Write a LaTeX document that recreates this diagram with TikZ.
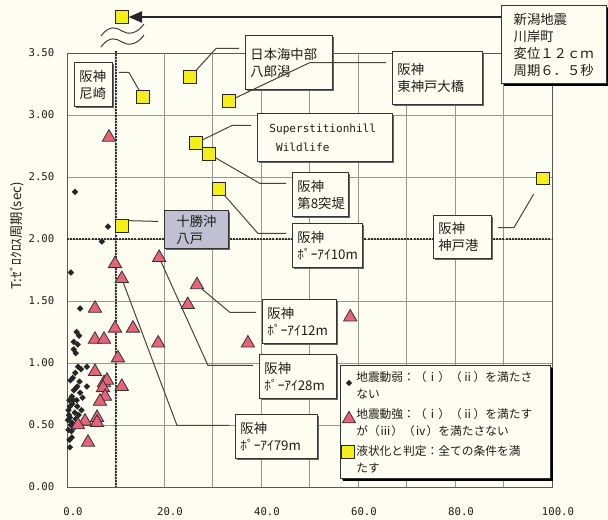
\documentclass[tikz,border=0pt]{standalone}
\usepackage{fontspec}
\setmainfont{Noto Sans CJK JP}
\newfontfamily\monofont{DejaVu Sans Mono}
\usetikzlibrary{arrows.meta,shapes.geometric,shadows}
\definecolor{paper}{RGB}{253,253,242}
\definecolor{liqyellow}{RGB}{246,238,24}
\definecolor{shakepink}{RGB}{232,98,122}
\definecolor{hachifill}{RGB}{192,192,210}
\definecolor{leadcol}{RGB}{72,68,46}
\definecolor{gridcol}{RGB}{150,150,138}
\definecolor{inkcol}{RGB}{30,30,24}

\begin{document}
\begin{tikzpicture}[x=0.75pt,y=-0.75pt,
  label box/.style={rectangle,draw=black!80,fill=paper,line width=0.7pt,anchor=north west,
    align=left,inner xsep=3.75pt,text=inkcol,font=\fontsize{10}{12.75}\selectfont,
    drop shadow={shadow xshift=0.8pt,shadow yshift=-0.8pt,fill=black!60,opacity=1}},
  liq mark/.style={rectangle,draw=black!85,fill=liqyellow,line width=0.6pt,minimum size=9.5pt,inner sep=0pt},
  strong mark/.style={regular polygon,regular polygon sides=3,draw=black!80,fill=shakepink,
    line width=0.6pt,minimum size=11.5pt,inner sep=0pt},
  weak mark/.style={diamond,fill=black!85,minimum size=5pt,inner sep=0pt},
  grid line/.style={draw=gridcol,line width=0.4pt},
  frame line/.style={draw=black!65,line width=0.6pt},
  limit line/.style={draw=black!80,line width=1.5pt,dash pattern=on 1.5pt off 0.8pt},
  leader/.style={draw=leadcol,line width=0.75pt,shorten <=4.5pt},
  ytick/.style={anchor=east,xshift=-6pt,font=\monofont\fontsize{8}{9}\selectfont,text=inkcol},
  xtick/.style={anchor=north,yshift=-12pt,xshift=4.5pt,font=\monofont\fontsize{8}{9}\selectfont,text=inkcol},
  legend text/.style={anchor=north west,align=left,inner sep=0pt,text=inkcol,
    font=\fontsize{8.8}{13}\selectfont}]

  \useasboundingbox (0,0) rectangle (608,519);
  \fill[paper] (0,0) rectangle (608,519);

  % plot area in data units
  \begin{scope}[shift={(50.25pt,-365.25pt)},x=3.6375pt,y=93pt]
    \foreach \gx in {10,20,...,90}
      \draw[grid line] (\gx,0) -- (\gx,3.5);
    \foreach \gy in {0.5,1.0,1.5,2.0,2.5,3.0}
      \draw[grid line] (0,\gy) -- (100,\gy);
    \draw[frame line] (0,0) rectangle (100,3.5);

    \foreach \gy/\txt [count=\k] in {0/0.00,0.5/0.50,1/1.00,1.5/1.50,2/2.00,2.5/2.50,3/3.00,3.5/3.50}
      \node[ytick] (ytick\k) at (0,\gy) {\txt};
    \foreach \gx/\txt [count=\k] in {0/0.0,20/20.0,40/40.0,60/60.0,80/80.0,100/100.0}
      \node[xtick] (xtick\k) at (\gx,0) {\txt};

    % limits
    \draw[limit line] (10,3.52) -- (10,0);
    \draw[limit line] (0,2) -- (100,2);

    % weak shaking
    \foreach \vx/\vy [count=\k] in {1.65/2.38,8.45/2.10,7.2/1.98,0.8/1.73,2.7/1.44,2.0/1.25,2.5/1.22,
      1.4/1.17,1.4/1.11,2.3/0.97,4.1/0.97,4.1/0.81,2.1/0.81,1.4/0.78,1.0/0.73,1.3/0.70,2.7/0.76,
      0.6/0.65,2.1/0.65,1.6/0.60,0.6/0.56,1.0/0.52,0.3/0.46,1.0/0.40,0.6/0.32,0.9/0.45,1.8/0.55,
      3.0/0.62,0.5/0.38,2.6/0.85,1.7/0.92,1.2/0.88,0.4/0.58,2.0/0.70,0.3/0.62,1.1/0.67,2.4/0.58,
      0.8/0.50,1.5/0.48,0.2/0.54,3.2/0.72,1.9/0.80,0.7/0.86,2.9/0.95,1.8/1.08,2.2/1.15,0.5/0.70}
      \node[weak mark] (weak\k) at (\vx,\vy) {};

    % strong shaking
    \foreach \vx/\vy [count=\k] in {8.66/2.82,9.9/1.80,5.77/1.44,24.9/1.47,9.9/1.28,13.6/1.28,
      5.77/1.19,7.63/1.19,18.8/1.16,37.3/1.16,10.5/1.04,5.77/0.93,7.63/0.84,8.25/0.86,7.42/0.80,
      7.84/0.73,6.8/0.69,11.3/0.81,6.19/0.56,6.19/0.52,3.71/0.53,2.27/0.50,4.33/0.36,58.4/1.37}
      \node[strong mark] (strong\k) at (\vx,\vy) {};
    \node[strong mark] (triA) at (26.8,1.63) {};
    \node[strong mark] (triB) at (19.0,1.85) {};
    \node[strong mark] (triC) at (11.3,1.68) {};

    % liquefied
    \node[liq mark] (sqA) at (15.67,3.145) {};
    \node[liq mark] (sqB) at (25.36,3.306) {};
    \node[liq mark] (sqC) at (33.4,3.113) {};
    \node[liq mark] (sqD) at (26.6,2.774) {};
    \node[liq mark] (sqE) at (29.28,2.685) {};
    \node[liq mark] (sqF) at (31.34,2.403) {};
    \node[liq mark] (sqG) at (11.34,2.105) {};
    \node[liq mark] (sqH) at (98.14,2.49) {};
  \end{scope}

  % off-scale point
  \node[liq mark] (sqTop) at (122,17) {};
  \draw[black!80,line width=0.7pt] (101,36) .. controls (110,24) and (117,28) .. (122,31)
    .. controls (128,35) and (137,34) .. (144,24);
  \draw[black!80,line width=0.7pt] (101,47) .. controls (110,35) and (117,39) .. (122,42)
    .. controls (128,46) and (137,45) .. (144,35);

  \node[rotate=90,text=inkcol,font=\fontsize{10}{12}\selectfont] (ylabel) at (17,236) {T:ｾﾞﾛｸﾛｽ周期(sec)};

  % site boxes
  \node[label box,text width=21pt,minimum height=33pt] (amagasaki) at (74,62) {阪神\\尼崎};
  \node[label box,text width=57.75pt,minimum height=40.5pt] (hachiro) at (245,35) {日本海中部\\八郎潟};
  \node[label box,text width=60pt,minimum height=39.75pt] (kobebridge) at (392,51) {阪神\\東神戸大橋};
  \node[label box,inner xsep=9pt,text width=83.25pt,minimum height=36pt,
    font=\monofont\fontsize{8.3}{14.25}\selectfont] (superst) at (257,113) {Superstitionhill\\\hphantom{S}Wildlife};
  \node[label box,text width=34.5pt,minimum height=33pt] (dai8) at (292,172) {阪神\\第8突堤};
  \node[label box,text width=45pt,minimum height=33pt] (buoy10) at (292,223) {阪神\\ﾎﾟｰｱｲ10m};
  \node[label box,inner xsep=9pt,text width=30pt,minimum height=28.5pt,fill=hachifill] (hachinohe) at (164,210) {十勝沖\\八戸};
  \node[label box,text width=36pt,minimum height=32.25pt] (kobeport) at (433,215) {阪神\\神戸港};
  \node[label box,text width=48pt,minimum height=33pt] (buoy12) at (262,299) {阪神\\ﾎﾟｰｱｲ12m};
  \node[label box,text width=50.25pt,minimum height=33pt] (buoy28) at (259,354) {阪神\\ﾎﾟｰｱｲ28m};
  \node[label box,text width=54pt,minimum height=33pt] (buoy79) at (235,414) {阪神\\ﾎﾟｰｱｲ79m};
  \node[label box,inner xsep=9pt,text width=60.75pt,minimum height=58.5pt,line width=1pt,
    drop shadow={shadow xshift=1.5pt,shadow yshift=-1.5pt,fill=black,opacity=1}] (niigata) at (501,5)
    {新潟地震\\川岸町\\変位１２ｃｍ\\周期６．５秒};

  % leaders
  \draw[leader] ([yshift=9pt]amagasaki.east) -- ++(16,0) -- (sqA);
  \draw[leader] ([yshift=10.5pt]hachiro.west) -- ++(-29,0) -- (sqB);
  \draw[leader] ([yshift=11.6pt]kobebridge.west) -- ++(-82,0) -- (sqC);
  \draw[leader] ([yshift=9pt]superst.west) -- ++(-25,0) -- (sqD);
  \draw[leader] ([yshift=8.25pt]dai8.west) -- ++(-32,0) -- (sqE);
  \draw[leader] ([yshift=9pt]buoy10.west) -- ++(-34,0) -- (sqF);
  \draw[leader] ([yshift=6pt]hachinohe.west) -- ([yshift=4pt]sqG.east);
  \draw[leader,shorten >=8pt] ([yshift=7pt]kobeport.east) -- ++(22,0) -- (sqH);
  \draw[leader] ([yshift=6.75pt]buoy12.west) -- ++(-32,0) -- (triA);
  \draw[leader] ([yshift=8.25pt]buoy28.west) -- ++(-51,0) -- (triB);
  \draw[leader] ([yshift=8.25pt]buoy79.west) -- ++(-58,0) -- (triC);
  \draw[draw=black!85,line width=1.1pt,-{Triangle[length=10pt,width=8.5pt]}] (niigata.west |- sqTop) -- (sqTop);

  % legend
  \node[label box,minimum width=157.5pt,minimum height=84.75pt,line width=0.8pt,
    drop shadow={shadow xshift=1.5pt,shadow yshift=-1.5pt,fill=black,opacity=1}] (legend) at (340,365) {};
  \node[weak mark] (legweak) at (349,383) {};
  \node[legend text] (legweaktxt) at (356,371) {地震動弱：（ⅰ）（ⅱ）を満たさ\\ない};
  \node[strong mark] (legstrong) at (349,419) {};
  \node[legend text] (legstrongtxt) at (356,408) {地震動強：（ⅰ）（ⅱ）を満たす\\が（ⅲ）（ⅳ）を満たさない};
  \node[liq mark] (legliq) at (348,452) {};
  \node[legend text] (legliqtxt) at (356,445) {液状化と判定：全ての条件を満\\たす};
\end{tikzpicture}
\end{document}
